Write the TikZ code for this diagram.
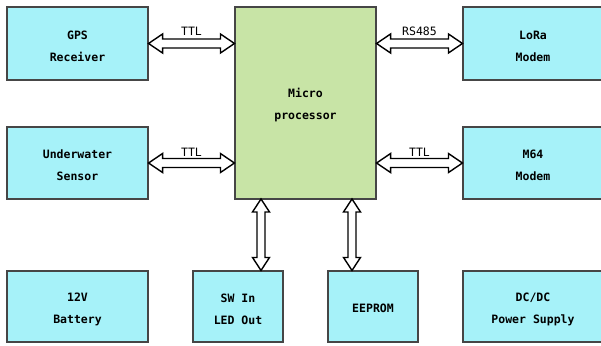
\documentclass[tikz,border=0pt]{standalone}
\usepackage{fontspec}
\setmainfont{DejaVu Sans Mono}
\usetikzlibrary{calc}
\definecolor{cyanbox}{RGB}{166,242,249}
\definecolor{greenbox}{RGB}{200,228,166}
\definecolor{edge}{RGB}{70,70,70}
\tikzset{
  box/.style={draw=edge, line width=1.1pt, fill=cyanbox, inner sep=0pt},
  mcubox/.style={box, fill=greenbox},
  txt/.style={align=center, inner sep=0pt, yshift=-2.5pt,
    font=\fontsize{11.5pt}{22pt}\selectfont\bfseries},
  dblarr/.style={draw=black, fill=white, line width=1.4pt, line join=miter},
  lbl/.style={font=\fontsize{11.5pt}{13pt}\selectfont, inner sep=0pt}
}
\newcommand\harrow[2]{\path[dblarr] let \p1=(#1), \p2=(#2) in
 (\x1,\y1) -- (\x1+14pt,\y1+9.5pt) -- (\x1+14pt,\y1+4.5pt) -- (\x2-14pt,\y1+4.5pt) -- (\x2-14pt,\y1+9.5pt) -- (\x2,\y1) -- (\x2-14pt,\y1-9.5pt) -- (\x2-14pt,\y1-4.5pt) -- (\x1+14pt,\y1-4.5pt) -- (\x1+14pt,\y1-9.5pt) -- cycle;}
\newcommand\varrow[2]{\path[dblarr] let \p1=(#1), \p2=(#2) in
 (\x1,\y1) -- (\x1+8.5pt,\y1-13pt) -- (\x1+4pt,\y1-13pt) -- (\x1+4pt,\y2+13pt) -- (\x1+8.5pt,\y2+13pt) -- (\x1,\y2) -- (\x1-8.5pt,\y2+13pt) -- (\x1-4pt,\y2+13pt) -- (\x1-4pt,\y1-13pt) -- (\x1-8.5pt,\y1-13pt) -- cycle;}
\begin{document}
\begin{tikzpicture}[x=1pt,y=-1pt]
\useasboundingbox (0,0) rectangle (601,345);
\clip (0,0) rectangle (601,345);
\fill[white] (0,0) rectangle (601,345);
% boxes
\node[box, minimum width=141pt, minimum height=73pt, label={[txt]center:{GPS\\Receiver}}] (gps) at (77.5,43.5) {};
\node[box, minimum width=141pt, minimum height=72pt, label={[txt]center:{Underwater\\Sensor}}] (uw) at (77.5,163) {};
\node[mcubox, minimum width=141pt, minimum height=192pt, label={[txt]center:{Micro\\processor}}] (mcu) at (305.5,103) {};
\node[box, minimum width=140pt, minimum height=73pt, label={[txt]center:{LoRa\\Modem}}] (lora) at (533,43.5) {};
\node[box, minimum width=140pt, minimum height=72pt, label={[txt]center:{M64\\Modem}}] (m64) at (533,163) {};
\node[box, minimum width=141pt, minimum height=71pt, label={[txt]center:{12V\\Battery}}] (bat) at (77.5,306.5) {};
\node[box, minimum width=90pt, minimum height=71pt, label={[txt]center:{SW In\\LED Out}}] (sw) at (238,306.5) {};
\node[box, minimum width=90pt, minimum height=71pt, label={[txt, yshift=1pt]center:{EEPROM}}] (eep) at (373,306.5) {};
\node[box, minimum width=140pt, minimum height=71pt, label={[txt]center:{DC/DC\\Power Supply}}] (dc) at (533,306.5) {};
% connectors
\harrow{gps.east}{mcu.west |- gps.east}
\harrow{uw.east}{mcu.west |- uw.east}
\harrow{mcu.east |- lora.west}{lora.west}
\harrow{mcu.east |- m64.west}{m64.west}
\coordinate (a1) at (261,199);
\coordinate (a2) at (352,199);
\varrow{a1}{a1 |- sw.north}
\varrow{a2}{a2 |- eep.north}
% labels
\node[lbl] (t1) at (191.5,31) {TTL};
\node[lbl] (t2) at (191.5,152) {TTL};
\node[lbl] (t3) at (419.5,31) {RS485};
\node[lbl] (t4) at (419.5,152) {TTL};
\end{tikzpicture}
\end{document}
